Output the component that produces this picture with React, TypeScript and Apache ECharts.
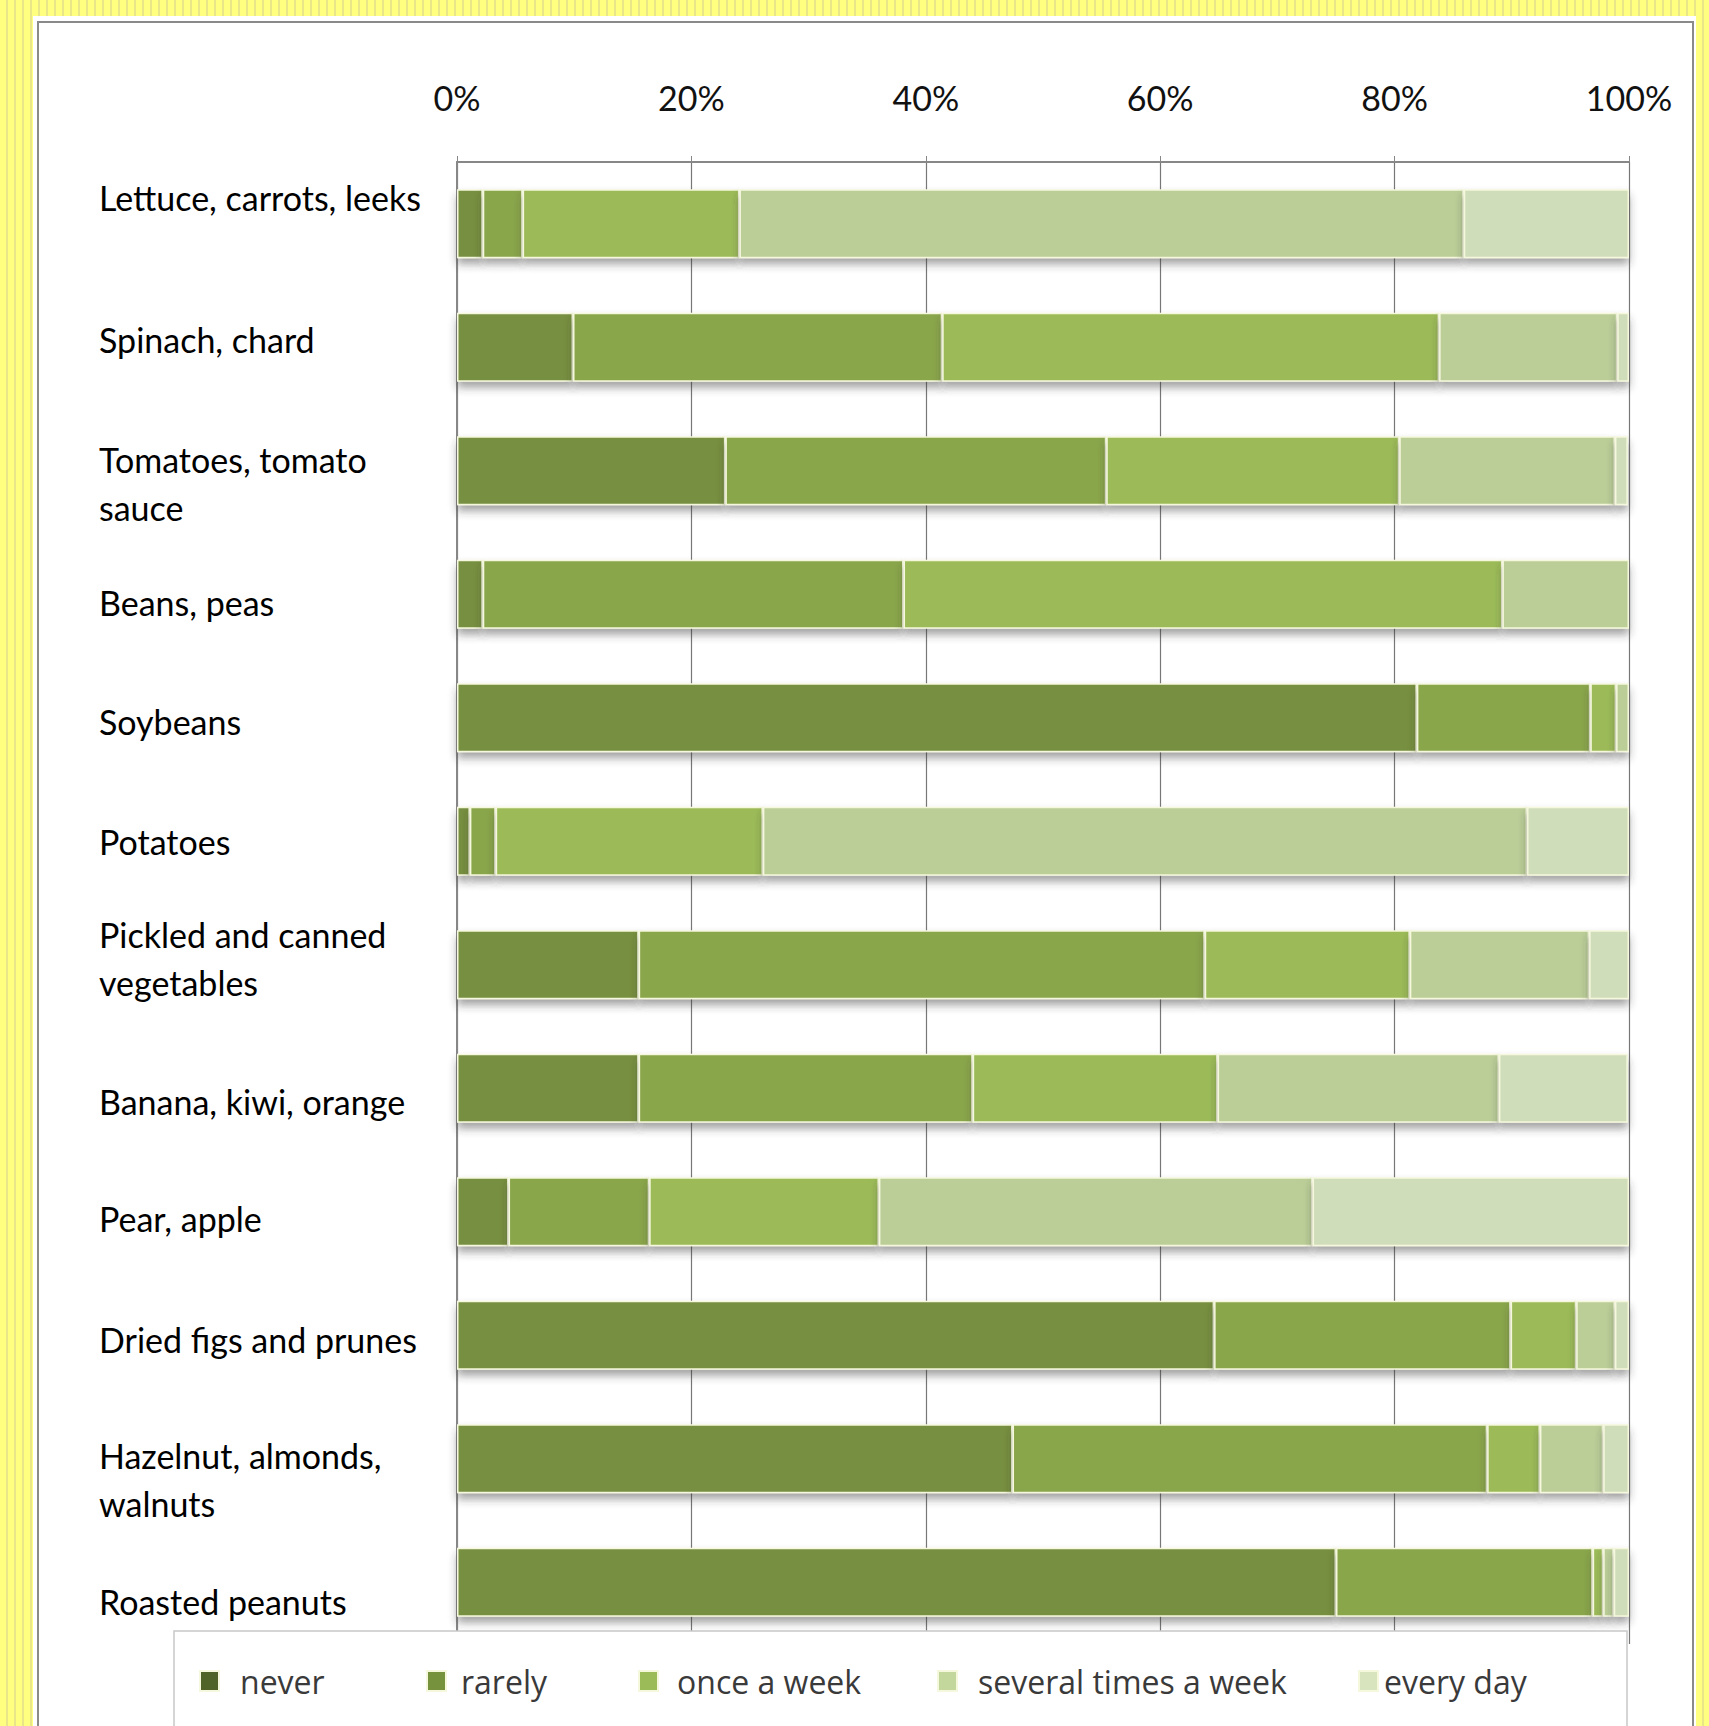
import React, { useEffect, useRef } from "react";
import * as echarts from "echarts";

// ---------- data ----------
const categories: string[] = [
  "Lettuce, carrots, leeks",
  "Spinach, chard",
  "Tomatoes, tomato\nsauce",
  "Beans, peas",
  "Soybeans",
  "Potatoes",
  "Pickled and canned\nvegetables",
  "Banana, kiwi, orange",
  "Pear, apple",
  "Dried figs and prunes",
  "Hazelnut, almonds,\nwalnuts",
  "Roasted peanuts",
];

const seriesNames: string[] = ["never", "rarely", "once a week", "several times a week", "every day"];

const never: number[] = [2.2, 9.9, 22.9, 2.2, 81.9, 1.1, 15.5, 15.5, 4.4, 64.6, 47.4, 75.0];
const rarely: number[] = [3.4, 31.5, 32.5, 35.9, 14.8, 2.2, 48.3, 28.5, 12.0, 25.3, 40.5, 21.9];
const onceAWeek: number[] = [18.5, 42.4, 25.0, 51.1, 2.2, 22.8, 17.5, 20.9, 19.6, 5.6, 4.5, 0.9];
const severalTimes: number[] = [61.8, 15.2, 18.4, 10.8, 1.1, 65.2, 15.3, 24.0, 37.0, 3.3, 5.4, 0.9];
const everyDay: number[] = [14.1, 1.0, 1.1, 0.0, 0.0, 8.7, 3.4, 11.0, 27.0, 1.2, 2.2, 1.3];

const tickValues = { min: 0, max: 100, interval: 20 };

// ---------- styles ----------
const barColors = ["#778f40", "#8aa64c", "#9cbb59", "#bbce98", "#d0ddbb"];
const legendColors = ["#4f6228", "#76923c", "#9bbb59", "#c3d69b", "#d7e4bd"];
const legendLeft = [199, 426, 638, 937, 1358];
const legendTextGap = [16, 10, 14, 16, 1];
// vertical shift of each category label relative to its bar (px, + = down)
const labelShift = [-26, -8, 13, 8, 4, 0, -6, 13, 7, 4, 21, 19];

const LABEL_FONT = "Lato";
const LABEL_SIZE = 34;
const LINE_H = 48;

export default function App() {
  const ref = useRef<HTMLDivElement>(null);

  useEffect(() => {
    if (!ref.current) return;
    const chart = echarts.init(ref.current, null, { renderer: "svg" });

    const values = [never, rarely, onceAWeek, severalTimes, everyDay];

    const baseRich = { fontFamily: LABEL_FONT, fontSize: LABEL_SIZE, color: "#000", lineHeight: LINE_H };
    const rich: Record<string, any> = { n: { ...baseRich } };
    labelShift.forEach((d, i) => {
      const a = Math.abs(d) * 2;
      rich["d" + i] = { ...baseRich, lineHeight: LINE_H + a, padding: [a, 0, 0, 0] };
      rich["u" + i] = { ...baseRich, lineHeight: LINE_H + a, padding: [0, 0, a, 0] };
    });

    const option: any = {
      animation: false,
      backgroundColor: "transparent",
      grid: { left: 457, right: 80, top: 162, bottom: 82 },
      xAxis: {
        type: "value",
        position: "top",
        min: tickValues.min,
        max: tickValues.max,
        interval: tickValues.interval,
        axisLine: { show: true, lineStyle: { color: "#878787", width: 2 } },
        axisTick: { show: true, length: 6, lineStyle: { color: "#878787" } },
        splitLine: { show: true, lineStyle: { color: "#777", width: 1.2 } },
        axisLabel: {
          formatter: "{value}%",
          fontFamily: LABEL_FONT,
          fontSize: 34,
          color: "#111",
          margin: 48,
        },
      },
      yAxis: {
        type: "category",
        inverse: true,
        data: categories,
        axisLine: { show: true, lineStyle: { color: "#878787", width: 2 } },
        axisTick: { show: false },
        splitLine: { show: false },
        axisLabel: {
          align: "left",
          margin: 358,
          fontFamily: LABEL_FONT,
          fontSize: LABEL_SIZE,
          color: "#000",
          lineHeight: LINE_H,
          formatter: (value: string, index: number) => {
            const d = labelShift[index] || 0;
            const lines = value.split("\n");
            return lines
              .map((ln, j) => {
                let tag = "n";
                if (d > 0 && j === 0) tag = "d" + index;
                if (d < 0 && j === lines.length - 1) tag = "u" + index;
                return `{${tag}|${ln}}`;
              })
              .join("\n");
          },
          rich,
        },
      },
      legend: seriesNames.map((name, i) => ({
        show: true,
        left: legendLeft[i],
        top: 1665,
        orient: "horizontal",
        padding: 0,
        itemGap: 0,
        itemWidth: 19,
        itemHeight: 20,
        z: 30,
        selectedMode: false,
        data: [{ name, icon: "rect", itemStyle: { color: legendColors[i] } }],
        textStyle: {
          fontFamily: "Open Sans",
          fontSize: 32,
          color: "#3a3a3a",
          padding: [0, 0, 0, legendTextGap[i]],
        },
      })),
      graphic: {
        elements: [
          {
            type: "rect",
            z: 20,
            shape: { x: 174, y: 1631, width: 1453, height: 120 },
            style: { fill: "#ffffff", stroke: "#c8c8c8", lineWidth: 1.5 },
          },
        ],
      },
      series: seriesNames.map((name, i) => ({
        name,
        type: "bar",
        stack: "total",
        barWidth: 69,
        data: values[i],
        itemStyle: {
          color: barColors[i],
          borderColor: "#f5f8dc",
          borderWidth: 1.5,
          shadowColor: "rgba(50,50,50,0.45)",
          shadowBlur: 8,
          shadowOffsetY: 6,
        },
        emphasis: { disabled: true },
      })),
    };

    chart.setOption(option);
    return () => chart.dispose();
  }, []);

  return (
    <div
      style={{
        position: "absolute",
        left: 0,
        top: 0,
        width: 1709,
        height: 1726,
        overflow: "hidden",
        background:
          "repeating-linear-gradient(90deg, #ffff80 0px, #ffff80 6px, #e9e68a 6px, #e9e68a 8px)",
      }}
    >
      <div style={{ position: "absolute", left: 33, top: 16, width: 1663, height: 1720, background: "#fff" }} />
      <div
        style={{
          position: "absolute",
          left: 37,
          top: 21,
          width: 1657,
          height: 1720,
          border: "2px solid #8a8a8a",
          boxSizing: "border-box",
        }}
      />
      <div ref={ref} style={{ position: "absolute", left: 0, top: 0, width: 1709, height: 1726 }} />
    </div>
  );
}
